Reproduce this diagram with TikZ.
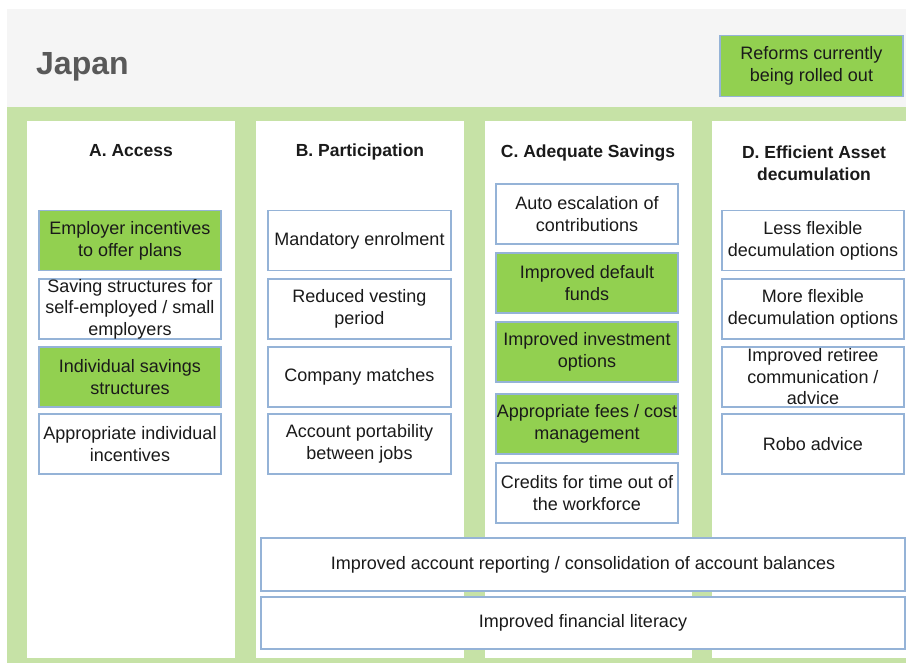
\documentclass[tikz,border=0pt]{standalone}
\usepackage{fontspec}
\setmainfont{Liberation Sans}
\definecolor{hdrgrey}{HTML}{F5F5F5}
\definecolor{bandgreen}{HTML}{C6E2A6}
\definecolor{reformgreen}{HTML}{92D050}
\definecolor{boxblue}{HTML}{95B3D7}
\definecolor{titlegrey}{HTML}{595959}
\definecolor{txt}{HTML}{1A1A1A}
\begin{document}
\begin{tikzpicture}[x=1pt,y=-1pt,
  item/.style={draw=boxblue, line width=1.3pt, fill=white, align=center, inner sep=0pt,
    minimum width=182pt, minimum height=60pt, text=txt, font=\fontsize{18}{22}\selectfont},
  reform/.style={item, fill=reformgreen},
  wide/.style={item, minimum width=644pt, minimum height=52pt},
  colhead/.style={align=center, font=\bfseries\fontsize{17.5}{21.5}\selectfont, text=txt},
  column/.style={fill=white, draw=none},
]
\useasboundingbox (0,0) rectangle (906,663);
\fill[white] (0,0) rectangle (906,663);
% header and band
\fill[hdrgrey] (7,9) rectangle (906,107);
\fill[bandgreen] (7,107) rectangle (906,663);
% columns
\fill[column] (27,121) rectangle (235,658);
\fill[column] (256,121) rectangle (464,658);
\fill[column] (485,121) rectangle (692,658);
\fill[column] (712,121) rectangle (906,658);
% title
\node[anchor=west, inner sep=0pt, text=titlegrey, font=\bfseries\fontsize{32}{36}\selectfont] (title) at (36,67) {Japan};
\node[reform, minimum width=183pt, minimum height=61pt] (legend) at (811.5,66) {Reforms currently\\being rolled out};
% column headers
\node[colhead] (ha) at (131,151) {A. Access};
\node[colhead] (hb) at (360,152) {B. Participation};
\node[colhead] (hc) at (588,153) {C. Adequate Savings};
\node[colhead] (hd) at (814,163) {D. Efficient Asset\\decumulation};
% A
\node[reform] (a1) at (130,240.5) {Employer incentives\\to offer plans};
\node[item, font=\fontsize{18}{21.5}\selectfont] (a2) at (130,309) {Saving structures for\\self-employed / small\\employers};
\node[reform] (a3) at (130,377) {Individual savings\\structures};
\node[item] (a4) at (130,444) {Appropriate individual\\incentives};
% B
\node[item, minimum width=183pt] (b1) at (359.5,240.5) {Mandatory enrolment};
\node[item, minimum width=183pt] (b2) at (359.5,309) {Reduced vesting\\period};
\node[item, minimum width=183pt] (b3) at (359.5,377) {Company matches};
\node[item, minimum width=183pt] (b4) at (359.5,444) {Account portability\\between jobs};
% C
\node[item] (c1) at (587,214) {Auto escalation of\\contributions};
\node[reform] (c2) at (587,283) {Improved default\\funds};
\node[reform] (c3) at (587,352) {Improved investment\\options};
\node[reform] (c4) at (587,424) {Appropriate fees / cost\\management};
\node[item] (c5) at (587,493) {Credits for time out of\\the workforce};
% D
\node[item] (d1) at (813,240.5) {Less flexible\\decumulation options};
\node[item] (d2) at (813,309) {More flexible\\decumulation options};
\node[item, font=\fontsize{18}{21.5}\selectfont] (d3) at (813,377) {Improved retiree\\communication /\\advice};
\node[item] (d4) at (813,444) {Robo advice};
% wide
\node[wide, minimum height=53pt] (w1) at (583,564.5) {Improved account reporting / consolidation of account balances};
\node[wide] (w2) at (583,623) {Improved financial literacy};
\end{tikzpicture}
\end{document}
